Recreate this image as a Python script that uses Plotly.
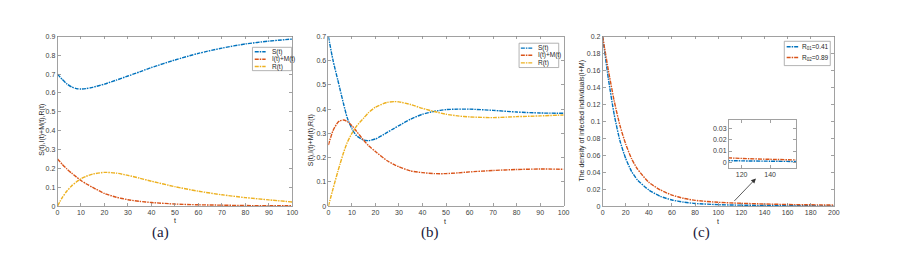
import plotly.graph_objects as go

# ---------------- data ----------------
t_a = [0, 2, 4, 6, 8, 10, 12, 15, 20, 25, 30, 35, 40, 50, 60, 70, 80, 90, 100]
S_a = [0.700, 0.672, 0.648, 0.632, 0.623, 0.621, 0.623, 0.630, 0.647, 0.668, 0.690,
       0.712, 0.735, 0.775, 0.810, 0.838, 0.860, 0.875, 0.886]
IM_a = [0.250, 0.222, 0.197, 0.175, 0.155, 0.136, 0.120, 0.099, 0.067, 0.047, 0.034,
        0.025, 0.019, 0.011, 0.007, 0.005, 0.003, 0.0025, 0.002]
R_a = [0.000, 0.045, 0.080, 0.107, 0.128, 0.145, 0.157, 0.170, 0.179, 0.175, 0.163,
       0.148, 0.132, 0.103, 0.079, 0.060, 0.045, 0.033, 0.022]

t_b = [0, 2, 4, 5, 6.5, 8, 10, 12, 15, 17, 20, 25, 28, 30, 35, 40, 45, 50, 55, 60, 70, 80, 90, 100]
S_b = [0.700, 0.600, 0.520, 0.480, 0.420, 0.365, 0.319, 0.290, 0.272, 0.270, 0.277,
       0.304, 0.321, 0.332, 0.359, 0.379, 0.391, 0.398, 0.400, 0.400, 0.395, 0.388,
       0.384, 0.383]
IM_b = [0.252, 0.312, 0.345, 0.352, 0.355, 0.349, 0.332, 0.308, 0.272, 0.250, 0.225,
        0.187, 0.171, 0.162, 0.145, 0.138, 0.134, 0.134, 0.137, 0.141, 0.147, 0.151,
        0.153, 0.152]
R_b = [0.000, 0.072, 0.142, 0.175, 0.222, 0.262, 0.300, 0.330, 0.363, 0.385, 0.408,
       0.428, 0.431, 0.430, 0.419, 0.403, 0.390, 0.379, 0.372, 0.368, 0.365, 0.369,
       0.372, 0.376]

t_c = [0, 5, 10, 15, 20, 25, 30, 40, 50, 60, 70, 80, 100, 120, 140, 160, 200]
IM_c1 = [0.200, 0.150, 0.108, 0.077, 0.056, 0.041, 0.031, 0.019, 0.0115, 0.0072,
         0.0047, 0.0031, 0.0017, 0.0011, 0.0008, 0.0005, 0.0002]
IM_c2 = [0.200, 0.160, 0.124, 0.095, 0.073, 0.056, 0.044, 0.028, 0.019, 0.013,
         0.0092, 0.0068, 0.0045, 0.0033, 0.0025, 0.0019, 0.0012]

series_names_ab = ["S(t)", "I(t)+M(t)", "R(t)"]
series_names_c = ["R<sub>01</sub>=0.41", "R<sub>02</sub>=0.89"]

xt_ab = [0, 10, 20, 30, 40, 50, 60, 70, 80, 90, 100]
yt_a = [0, 0.1, 0.2, 0.3, 0.4, 0.5, 0.6, 0.7, 0.8, 0.9]
yt_a_lbl = ["0", "0.1", "0.2", "0.3", "0.4", "0.5", "0.6", "0.7", "0.8", "0.9"]
yt_b = [0, 0.1, 0.2, 0.3, 0.4, 0.5, 0.6, 0.7]
yt_b_lbl = ["0", "0.1", "0.2", "0.3", "0.4", "0.5", "0.6", "0.7"]
xt_c = [0, 20, 40, 60, 80, 100, 120, 140, 160, 180, 200]
yt_c = [0, 0.02, 0.04, 0.06, 0.08, 0.1, 0.12, 0.14, 0.16, 0.18, 0.2]
yt_c_lbl = ["0", "0.02", "0.04", "0.06", "0.08", "0.1", "0.12", "0.14", "0.16", "0.18", "0.2"]
xt_in = [120, 140]
yt_in = [0, 0.01, 0.02, 0.03]
yt_in_lbl = ["0", "0.01", "0.02", "0.03"]

BLUE, ORANGE, YELLOW = "#0072BD", "#D95319", "#EDB120"
DASH = "4px,1px,1.5px,1px"
W, H = 900, 260


def PX(x):
    return x / W


def PY(y):
    return 1 - y / H


fig = go.Figure()


def line(x, y, color, xa, ya):
    fig.add_trace(go.Scatter(x=x, y=y, mode="lines", xaxis=xa, yaxis=ya,
                             line=dict(color=color, width=1.4, dash=DASH, shape="spline", smoothing=0.6),
                             showlegend=False, hoverinfo="skip"))


line(t_a, S_a, BLUE, "x", "y")
line(t_a, IM_a, ORANGE, "x", "y")
line(t_a, R_a, YELLOW, "x", "y")
line(t_b, S_b, BLUE, "x2", "y2")
line(t_b, IM_b, ORANGE, "x2", "y2")
line(t_b, R_b, YELLOW, "x2", "y2")
line(t_c, IM_c1, BLUE, "x3", "y3")
line(t_c, IM_c2, ORANGE, "x3", "y3")
line(t_c, IM_c1, BLUE, "x4", "y4")
line(t_c, IM_c2, ORANGE, "x4", "y4")

AXC = "#8a8a8a"
TF = dict(family="Liberation Sans, Arial, sans-serif", size=7, color="#404040")


def ax(domain, rng, tv, tt=None, anchor=None):
    d = dict(domain=domain, range=rng, tickvals=tv, showgrid=False, zeroline=False,
             showline=True, linecolor=AXC, linewidth=0.8, mirror="ticks",
             ticks="inside", ticklen=3, tickcolor=AXC, tickwidth=0.8, tickfont=TF,
             anchor=anchor, fixedrange=True)
    if tt is not None:
        d["ticktext"] = tt
    return d


ydom = [PY(207.7), PY(33.3)]
fig.update_layout(
    width=W, height=H, margin=dict(l=0, r=0, t=0, b=0),
    paper_bgcolor="white", plot_bgcolor="white",
    xaxis=ax([PX(56), PX(293)], [0, 100], xt_ab, anchor="y"),
    yaxis=ax(ydom, [0, 0.9], yt_a, yt_a_lbl, anchor="x"),
    xaxis2=ax([PX(329.3), PX(566.7)], [0, 100], xt_ab, anchor="y2"),
    yaxis2=ax(ydom, [0, 0.7], yt_b, yt_b_lbl, anchor="x2"),
    xaxis3=ax([PX(606), PX(839.3)], [0, 200], xt_c, anchor="y3"),
    yaxis3=ax(ydom, [0, 0.2], yt_c, yt_c_lbl, anchor="x3"),
    xaxis4=ax([PX(733.3), PX(801)], [111, 158], xt_in, anchor="y4"),
    yaxis4=ax([PY(168.7), PY(118.7)], [-0.0055, 0.0385], yt_in, yt_in_lbl, anchor="x4"),
)

ann = []
LF = dict(family="Liberation Sans, Arial, sans-serif", size=7, color="#262626")
# axis titles
ann.append(dict(text="S(t),I(t)+M(t),R(t)", x=PX(39.5), y=PY(129), textangle=-90, font=LF))
ann.append(dict(text="S(t),I(t)+M(t),R(t)", x=PX(311.7), y=PY(140), textangle=-90, font=LF))
ann.append(dict(text="The density of infected individuals(I+M)", x=PX(585), y=PY(120), textangle=-90, font=LF))
ann.append(dict(text="t", x=PX(174.5), y=PY(223), font=LF))
ann.append(dict(text="t", x=PX(447), y=PY(224), font=LF))
ann.append(dict(text="t", x=PX(722), y=PY(224), font=LF))
# panel labels
PF = dict(family="Liberation Serif, Times New Roman, serif", size=15, color="#1a1a3a")
ann.append(dict(text="(a)", x=PX(160), y=PY(235), font=PF))
ann.append(dict(text="(b)", x=PX(432), y=PY(235), font=PF))
ann.append(dict(text="(c)", x=PX(706), y=PY(235), font=PF))
for a in ann:
    a.update(xref="paper", yref="paper", showarrow=False, xanchor="center", yanchor="middle")

# arrow to inset
ann.append(dict(x=132.6, y=0.0326, xref="x3", yref="y3", ax=-23, ay=24, text="",
                showarrow=True, arrowhead=2, arrowsize=1.2, arrowwidth=0.8, arrowcolor="#333333"))

shapes = []
GF = dict(family="Liberation Sans, Arial, sans-serif", size=6.5, color="#262626")


def legend(box, rows, sx0, sx1, tx, names, colors):
    shapes.append(dict(type="rect", xref="paper", yref="paper",
                       x0=PX(box[0]), x1=PX(box[1]), y0=PY(box[3]), y1=PY(box[2]),
                       line=dict(color="#a0a0a0", width=0.8), fillcolor="white", layer="above"))
    for ry, nm, col in zip(rows, names, colors):
        shapes.append(dict(type="line", xref="paper", yref="paper",
                           x0=PX(sx0), x1=PX(sx1), y0=PY(ry), y1=PY(ry),
                           line=dict(color=col, width=1.4, dash=DASH), layer="above"))
        ann.append(dict(text=nm, x=PX(tx), y=PY(ry), xref="paper", yref="paper",
                        showarrow=False, xanchor="left", yanchor="middle", font=GF))


legend((252.7, 292.3, 44.5, 68.5), [49, 56.8, 64.3], 255, 266, 270, series_names_ab, [BLUE, ORANGE, YELLOW])
legend((521.7, 561.7, 40.3, 65.3), [45.3, 52.7, 60.5], 523.5, 535, 538.3, series_names_ab, [BLUE, ORANGE, YELLOW])
legend((789.3, 835.7, 38.3, 63.3), [44, 55], 791.7, 803.3, 805, series_names_c, [BLUE, ORANGE])

fig.update_layout(annotations=ann, shapes=shapes)
fig.write_html("out.html", config={"displayModeBar": False, "staticPlot": True},
               post_script="document.body.style.margin='0';document.body.style.overflow='hidden';")
